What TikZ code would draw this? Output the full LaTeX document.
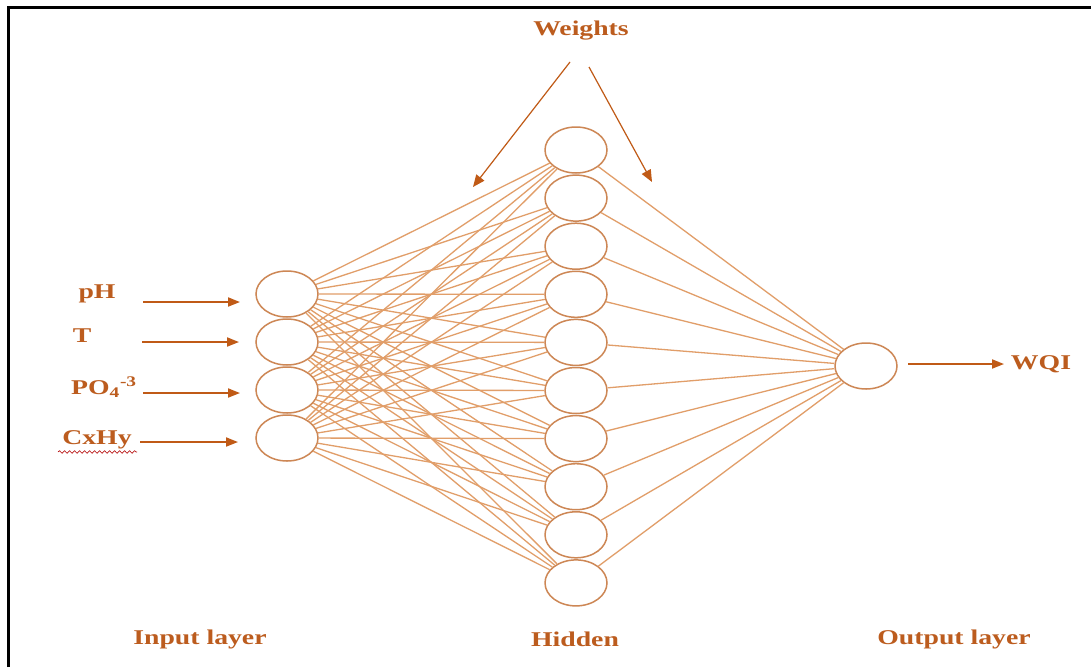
\documentclass[tikz,border=0pt]{standalone}
\usepackage{fontspec}
\setmainfont{Liberation Serif}
\usetikzlibrary{shapes.geometric,arrows.meta,decorations.pathmorphing}
\definecolor{txt}{RGB}{188,92,30}
\definecolor{edge}{RGB}{225,158,105}
\definecolor{ring}{RGB}{205,135,85}
\definecolor{arr}{RGB}{192,90,22}
\tikzset{
  neuron/.style={ellipse,draw=ring,line width=1.5pt,minimum width=62pt,minimum height=46pt,inner sep=0pt,fill=white},
  lbl/.style={text=txt,font=\fontsize{21}{25}\selectfont\bfseries,xscale=1.32,inner sep=0pt},
  conn/.style={draw=edge,line width=1.3pt},
  inarrow/.style={draw=arr,line width=1.8pt,-{Triangle[length=12pt,width=9pt]}},
  warrow/.style={draw=arr,line width=1.2pt,-{Triangle[length=12pt,width=10pt]}}
}
\begin{document}
\begin{tikzpicture}[x=1pt,y=-1pt]
\useasboundingbox (0,0) rectangle (1091,667);
\fill[white] (0,0) rectangle (1091,667);
\draw[black,line width=3pt] (8,667) -- (8,7) -- (1091,7);

% nodes
\foreach \i/\y in {1/294,2/342,3/390,4/438} \node[neuron] (i\i) at (287,\y) {};
\foreach \k in {1,...,10} \node[neuron] (h\k) at (576,{150+48.1*(\k-1)}) {};
\node[neuron] (o) at (866,366) {};

% connections
\foreach \i in {1,...,4}
  \foreach \k in {1,...,10}
    \draw[conn] (i\i) -- (h\k);
\foreach \k in {1,...,10}
  \draw[conn] (h\k) -- (o);

% input labels and arrows
\node[lbl] (lph) at (97,294) {pH};
\node[lbl] (lt) at (82,336) {T};
\node[lbl] (lpo) at (104,387) {PO\textsubscript{4}\textsuperscript{-3}};
\node[lbl] (lcx) at (97,440) {CxHy};
\draw[red!70!black,line width=0.6pt,decorate,decoration={snake,amplitude=1.3pt,segment length=5pt}] (58,452) -- (137,452);

\coordinate (s1) at (143,302); \coordinate (e1) at (240,302);
\coordinate (s2) at (142,342); \coordinate (e2) at (239,342);
\coordinate (s3) at (143,393); \coordinate (e3) at (240,393);
\coordinate (s4) at (140,442); \coordinate (e4) at (238,442);
\foreach \n in {1,...,4} \draw[inarrow] (s\n) -- (e\n);

% weights
\node[lbl] (w) at (581,31) {Weights};
\coordinate (wl) at (570,62); \coordinate (wle) at (473,187);
\coordinate (wr) at (589,67); \coordinate (wre) at (652,182);
\draw[warrow] (wl) -- (wle);
\draw[warrow] (wr) -- (wre);

% output
\node[lbl] (wqi) at (1041,364) {WQI};
\coordinate (os) at (908,364); \coordinate (oe) at (1004,364);
\draw[inarrow] (os) -- (oe);

% layer labels
\node[lbl] (il) at (200,639) {Input layer};
\node[lbl] (hl) at (575,639) {Hidden};
\node[lbl] (ol) at (954,639) {Output layer};
\end{tikzpicture}
\end{document}
